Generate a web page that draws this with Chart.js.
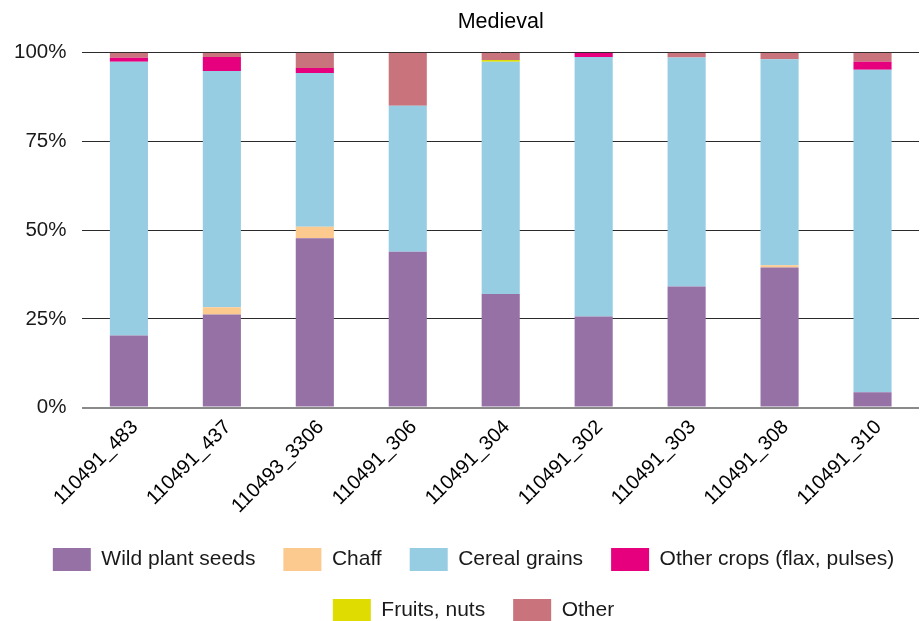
<!DOCTYPE html>
<html>
<head>
<meta charset="utf-8">
<script src="https://cdn.jsdelivr.net/npm/chart.js@4/dist/chart.umd.min.js"></script>
<style>
  html, body { margin: 0; padding: 0; background: #ffffff; }
  #wrap { width: 920px; height: 621px; position: relative; }
</style>
</head>
<body>
<div id="wrap"><canvas id="chart"></canvas></div>
<script>
// Sample identifiers
const samples = ['110491_483', '110491_437', '110493_3306', '110491_306', '110491_304',
                 '110491_302', '110491_303', '110491_308', '110491_310'];

// Share of each plant-remain group per sample (%)
const wildPlantSeeds = [20.3, 26.2, 47.7, 43.9, 32.0, 25.7, 34.1, 39.5, 4.3];
const chaff          = [0, 2.1, 3.3, 0, 0, 0, 0, 0.6, 0];
const cerealGrains   = [77.2, 66.6, 43.3, 41.2, 65.5, 73.1, 64.6, 58.1, 90.9];
const otherCrops     = [1.1, 3.9, 1.4, 0, 0, 1.2, 0, 0, 2.3];
const fruitsNuts     = [0, 0, 0, 0, 0.5, 0, 0, 0, 0];
const other          = [1.4, 1.2, 4.3, 14.9, 2.0, 0, 1.3, 1.8, 2.5];

const yTicks = [0, 25, 50, 75, 100];

const FONT = "'Liberation Sans', Arial, sans-serif";

function series(label, data, color) {
  return {
    label, data,
    backgroundColor: color,
    borderWidth: 0,
    barPercentage: 0.41,
    categoryPercentage: 1.0
  };
}

// Centre the title over the plot area and nudge the legend block
const placeBlocks = {
  id: 'placeBlocks',
  afterLayout(chart) {
    const a = chart.chartArea;
    const t = chart.titleBlock;
    if (t) {
      const mid = (a.left + a.right) / 2;
      const w = t.right - t.left;
      t.left = mid - w / 2;
      t.right = mid + w / 2;
    }
    const lg = chart.legend;
    if (lg) { lg.left += 15; lg.right += 15; }
  }
};

new Chart(document.getElementById('chart'), {
  type: 'bar',
  data: {
    labels: samples,
    datasets: [
      series('Wild plant seeds', wildPlantSeeds, '#9571A6'),
      series('Chaff', chaff, '#FCC98E'),
      series('Cereal grains', cerealGrains, '#97CDE3'),
      series('Other crops (flax, pulses)', otherCrops, '#E6007E'),
      series('Fruits, nuts', fruitsNuts, '#DEDC00'),
      series('Other', other, '#C9737C')
    ]
  },
  options: {
    responsive: true,
    maintainAspectRatio: false,
    animation: false,
    layout: { padding: { left: -2, right: 1, top: 0, bottom: -11 } },
    plugins: {
      title: {
        display: true,
        text: 'Medieval',
        color: '#000000',
        font: { family: FONT, size: 21.5, weight: 'normal' },
        padding: { top: 9, bottom: 18 }
      },
      legend: {
        position: 'bottom',
        labels: {
          color: '#1a1a1a',
          font: { family: FONT, size: 21 },
          boxWidth: 38,
          boxHeight: 23,
          padding: 28
        }
      },
      tooltip: { enabled: false }
    },
    scales: {
      x: {
        stacked: true,
        grid: { display: false, drawTicks: false },
        border: { display: false },
        afterFit(scale) {
          scale.paddingLeft = 0;
          scale.paddingRight = 0;
          scale.height -= 6;
        },
        ticks: {
          color: '#000000',
          font: { family: FONT, size: 20 },
          maxRotation: 45,
          minRotation: 45,
          padding: 8,
          labelOffset: 6
        }
      },
      y: {
        stacked: true,
        min: 0,
        max: 100,
        afterBuildTicks(axis) { axis.ticks = yTicks.map(v => ({ value: v })); },
        border: { display: false },
        grid: {
          drawTicks: false,
          color: ctx => ctx.tick && ctx.tick.value === 0 ? '#8a8a8a' : '#2b2b2b',
          lineWidth: ctx => ctx.tick && ctx.tick.value === 0 ? 2 : 1
        },
        ticks: {
          color: '#1a1a1a',
          font: { family: FONT, size: 20.5 },
          padding: 16,
          callback: v => v + '%'
        }
      }
    }
  },
  plugins: [placeBlocks]
});
</script>
</body>
</html>
